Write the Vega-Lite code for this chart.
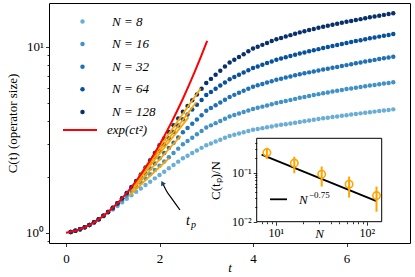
{
"$schema": "https://vega.github.io/schema/vega-lite/v6.json",
"width": 361, "height": 240,
"autosize": {"type": "none"},
"padding": {"left": 49, "top": 3, "right": 5, "bottom": 34},
"config": {
  "view": {"stroke": "black", "strokeWidth": 1},
  "font": "Liberation Serif",
  "axis": {"labelFont": "Liberation Serif", "titleFont": "Liberation Serif", "labelColor": "black", "titleColor": "black", "tickColor": "black", "tickWidth": 0.8, "domain": false, "grid": false, "titleFontWeight": "normal", "labelFontSize": 13, "titleFontSize": 13},
  "legend": {"labelFont": "Liberation Serif", "labelFontSize": 13, "labelColor": "black"}
},
"resolve": {"scale": {"x": "independent", "y": "independent"}},
"layer": [
 {
  "layer": [
   {
    "data": {"values": [
{"t":0.1,"N":"8","C":1.009},{"t":0.2,"N":"8","C":1.024},{"t":0.3,"N":"8","C":1.043},{"t":0.4,"N":"8","C":1.068},{"t":0.5,"N":"8","C":1.098},{"t":0.6,"N":"8","C":1.135},{"t":0.7,"N":"8","C":1.177},{"t":0.8,"N":"8","C":1.227},{"t":0.9,"N":"8","C":1.284},{"t":1.0,"N":"8","C":1.334},
{"t":1.1,"N":"8","C":1.393},{"t":1.2,"N":"8","C":1.455},{"t":1.3,"N":"8","C":1.521},{"t":1.4,"N":"8","C":1.589},{"t":1.5,"N":"8","C":1.660},{"t":1.6,"N":"8","C":1.730},{"t":1.7,"N":"8","C":1.803},{"t":1.8,"N":"8","C":1.879},{"t":1.9,"N":"8","C":1.959},{"t":2.0,"N":"8","C":2.042},
{"t":2.1,"N":"8","C":2.128},{"t":2.2,"N":"8","C":2.218},{"t":2.3,"N":"8","C":2.312},{"t":2.4,"N":"8","C":2.410},{"t":2.5,"N":"8","C":2.512},{"t":2.6,"N":"8","C":2.594},{"t":2.7,"N":"8","C":2.679},{"t":2.8,"N":"8","C":2.767},{"t":2.9,"N":"8","C":2.858},{"t":3.0,"N":"8","C":2.951},
{"t":3.1,"N":"8","C":3.020},{"t":3.2,"N":"8","C":3.090},{"t":3.3,"N":"8","C":3.162},{"t":3.4,"N":"8","C":3.236},{"t":3.5,"N":"8","C":3.311},{"t":3.6,"N":"8","C":3.362},{"t":3.7,"N":"8","C":3.413},{"t":3.8,"N":"8","C":3.466},{"t":3.9,"N":"8","C":3.519},{"t":4.0,"N":"8","C":3.573},
{"t":4.1,"N":"8","C":3.611},{"t":4.2,"N":"8","C":3.649},{"t":4.3,"N":"8","C":3.688},{"t":4.4,"N":"8","C":3.727},{"t":4.5,"N":"8","C":3.767},{"t":4.6,"N":"8","C":3.800},{"t":4.7,"N":"8","C":3.833},{"t":4.8,"N":"8","C":3.867},{"t":4.9,"N":"8","C":3.901},{"t":5.0,"N":"8","C":3.936},
{"t":5.1,"N":"8","C":3.972},{"t":5.2,"N":"8","C":4.009},{"t":5.3,"N":"8","C":4.046},{"t":5.4,"N":"8","C":4.083},{"t":5.5,"N":"8","C":4.121},{"t":5.6,"N":"8","C":4.153},{"t":5.7,"N":"8","C":4.186},{"t":5.8,"N":"8","C":4.219},{"t":5.9,"N":"8","C":4.252},{"t":6.0,"N":"8","C":4.285},
{"t":6.1,"N":"8","C":4.317},{"t":6.2,"N":"8","C":4.349},{"t":6.3,"N":"8","C":4.381},{"t":6.4,"N":"8","C":4.413},{"t":6.5,"N":"8","C":4.446},{"t":6.6,"N":"8","C":4.477},{"t":6.7,"N":"8","C":4.508},{"t":6.8,"N":"8","C":4.539},{"t":6.9,"N":"8","C":4.571},{"t":7.0,"N":"8","C":4.603},
{"t":0.1,"N":"16","C":1.009},{"t":0.2,"N":"16","C":1.024},{"t":0.3,"N":"16","C":1.043},{"t":0.4,"N":"16","C":1.069},{"t":0.5,"N":"16","C":1.099},{"t":0.6,"N":"16","C":1.137},{"t":0.7,"N":"16","C":1.180},{"t":0.8,"N":"16","C":1.232},{"t":0.9,"N":"16","C":1.290},{"t":1.0,"N":"16","C":1.343},
{"t":1.1,"N":"16","C":1.417},{"t":1.2,"N":"16","C":1.496},{"t":1.3,"N":"16","C":1.578},{"t":1.4,"N":"16","C":1.666},{"t":1.5,"N":"16","C":1.758},{"t":1.6,"N":"16","C":1.854},{"t":1.7,"N":"16","C":1.954},{"t":1.8,"N":"16","C":2.061},{"t":1.9,"N":"16","C":2.173},{"t":2.0,"N":"16","C":2.291},
{"t":2.1,"N":"16","C":2.415},{"t":2.2,"N":"16","C":2.547},{"t":2.3,"N":"16","C":2.685},{"t":2.4,"N":"16","C":2.831},{"t":2.5,"N":"16","C":2.985},{"t":2.6,"N":"16","C":3.112},{"t":2.7,"N":"16","C":3.243},{"t":2.8,"N":"16","C":3.381},{"t":2.9,"N":"16","C":3.524},{"t":3.0,"N":"16","C":3.673},
{"t":3.1,"N":"16","C":3.776},{"t":3.2,"N":"16","C":3.882},{"t":3.3,"N":"16","C":3.990},{"t":3.4,"N":"16","C":4.102},{"t":3.5,"N":"16","C":4.217},{"t":3.6,"N":"16","C":4.295},{"t":3.7,"N":"16","C":4.375},{"t":3.8,"N":"16","C":4.457},{"t":3.9,"N":"16","C":4.539},{"t":4.0,"N":"16","C":4.624},
{"t":4.1,"N":"16","C":4.692},{"t":4.2,"N":"16","C":4.762},{"t":4.3,"N":"16","C":4.833},{"t":4.4,"N":"16","C":4.905},{"t":4.5,"N":"16","C":4.977},{"t":4.6,"N":"16","C":5.042},{"t":4.7,"N":"16","C":5.107},{"t":4.8,"N":"16","C":5.174},{"t":4.9,"N":"16","C":5.241},{"t":5.0,"N":"16","C":5.309},
{"t":5.1,"N":"16","C":5.370},{"t":5.2,"N":"16","C":5.433},{"t":5.3,"N":"16","C":5.495},{"t":5.4,"N":"16","C":5.559},{"t":5.5,"N":"16","C":5.623},{"t":5.6,"N":"16","C":5.680},{"t":5.7,"N":"16","C":5.738},{"t":5.8,"N":"16","C":5.796},{"t":5.9,"N":"16","C":5.855},{"t":6.0,"N":"16","C":5.916},
{"t":6.1,"N":"16","C":5.967},{"t":6.2,"N":"16","C":6.020},{"t":6.3,"N":"16","C":6.073},{"t":6.4,"N":"16","C":6.126},{"t":6.5,"N":"16","C":6.180},{"t":6.6,"N":"16","C":6.231},{"t":6.7,"N":"16","C":6.283},{"t":6.8,"N":"16","C":6.335},{"t":6.9,"N":"16","C":6.388},{"t":7.0,"N":"16","C":6.442},
{"t":0.1,"N":"32","C":1.009},{"t":0.2,"N":"32","C":1.024},{"t":0.3,"N":"32","C":1.043},{"t":0.4,"N":"32","C":1.069},{"t":0.5,"N":"32","C":1.099},{"t":0.6,"N":"32","C":1.137},{"t":0.7,"N":"32","C":1.180},{"t":0.8,"N":"32","C":1.232},{"t":0.9,"N":"32","C":1.292},{"t":1.0,"N":"32","C":1.352},
{"t":1.1,"N":"32","C":1.436},{"t":1.2,"N":"32","C":1.525},{"t":1.3,"N":"32","C":1.621},{"t":1.4,"N":"32","C":1.721},{"t":1.5,"N":"32","C":1.828},{"t":1.6,"N":"32","C":1.948},{"t":1.7,"N":"32","C":2.076},{"t":1.8,"N":"32","C":2.212},{"t":1.9,"N":"32","C":2.357},{"t":2.0,"N":"32","C":2.512},
{"t":2.1,"N":"32","C":2.679},{"t":2.2,"N":"32","C":2.858},{"t":2.3,"N":"32","C":3.048},{"t":2.4,"N":"32","C":3.251},{"t":2.5,"N":"32","C":3.467},{"t":2.6,"N":"32","C":3.656},{"t":2.7,"N":"32","C":3.855},{"t":2.8,"N":"32","C":4.064},{"t":2.9,"N":"32","C":4.285},{"t":3.0,"N":"32","C":4.519},
{"t":3.1,"N":"32","C":4.677},{"t":3.2,"N":"32","C":4.842},{"t":3.3,"N":"32","C":5.012},{"t":3.4,"N":"32","C":5.188},{"t":3.5,"N":"32","C":5.370},{"t":3.6,"N":"32","C":5.508},{"t":3.7,"N":"32","C":5.649},{"t":3.8,"N":"32","C":5.794},{"t":3.9,"N":"32","C":5.943},{"t":4.0,"N":"32","C":6.095},
{"t":4.1,"N":"32","C":6.200},{"t":4.2,"N":"32","C":6.307},{"t":4.3,"N":"32","C":6.415},{"t":4.4,"N":"32","C":6.526},{"t":4.5,"N":"32","C":6.637},{"t":4.6,"N":"32","C":6.730},{"t":4.7,"N":"32","C":6.823},{"t":4.8,"N":"32","C":6.918},{"t":4.9,"N":"32","C":7.015},{"t":5.0,"N":"32","C":7.112},
{"t":5.1,"N":"32","C":7.194},{"t":5.2,"N":"32","C":7.278},{"t":5.3,"N":"32","C":7.362},{"t":5.4,"N":"32","C":7.447},{"t":5.5,"N":"32","C":7.534},{"t":5.6,"N":"32","C":7.617},{"t":5.7,"N":"32","C":7.702},{"t":5.8,"N":"32","C":7.788},{"t":5.9,"N":"32","C":7.874},{"t":6.0,"N":"32","C":7.962},
{"t":6.1,"N":"32","C":8.050},{"t":6.2,"N":"32","C":8.140},{"t":6.3,"N":"32","C":8.230},{"t":6.4,"N":"32","C":8.322},{"t":6.5,"N":"32","C":8.414},{"t":6.6,"N":"32","C":8.495},{"t":6.7,"N":"32","C":8.578},{"t":6.8,"N":"32","C":8.661},{"t":6.9,"N":"32","C":8.745},{"t":7.0,"N":"32","C":8.831},
{"t":0.1,"N":"64","C":1.009},{"t":0.2,"N":"64","C":1.024},{"t":0.3,"N":"64","C":1.043},{"t":0.4,"N":"64","C":1.069},{"t":0.5,"N":"64","C":1.099},{"t":0.6,"N":"64","C":1.137},{"t":0.7,"N":"64","C":1.180},{"t":0.8,"N":"64","C":1.232},{"t":0.9,"N":"64","C":1.292},{"t":1.0,"N":"64","C":1.361},
{"t":1.1,"N":"64","C":1.440},{"t":1.2,"N":"64","C":1.532},{"t":1.3,"N":"64","C":1.633},{"t":1.4,"N":"64","C":1.750},{"t":1.5,"N":"64","C":1.871},{"t":1.6,"N":"64","C":2.021},{"t":1.7,"N":"64","C":2.184},{"t":1.8,"N":"64","C":2.359},{"t":1.9,"N":"64","C":2.549},{"t":2.0,"N":"64","C":2.754},
{"t":2.1,"N":"64","C":2.979},{"t":2.2,"N":"64","C":3.221},{"t":2.3,"N":"64","C":3.483},{"t":2.4,"N":"64","C":3.767},{"t":2.5,"N":"64","C":4.074},{"t":2.6,"N":"64","C":4.325},{"t":2.7,"N":"64","C":4.592},{"t":2.8,"N":"64","C":4.875},{"t":2.9,"N":"64","C":5.176},{"t":3.0,"N":"64","C":5.495},
{"t":3.1,"N":"64","C":5.715},{"t":3.2,"N":"64","C":5.943},{"t":3.3,"N":"64","C":6.180},{"t":3.4,"N":"64","C":6.427},{"t":3.5,"N":"64","C":6.683},{"t":3.6,"N":"64","C":6.871},{"t":3.7,"N":"64","C":7.063},{"t":3.8,"N":"64","C":7.261},{"t":3.9,"N":"64","C":7.464},{"t":4.0,"N":"64","C":7.674},
{"t":4.1,"N":"64","C":7.834},{"t":4.2,"N":"64","C":7.998},{"t":4.3,"N":"64","C":8.166},{"t":4.4,"N":"64","C":8.337},{"t":4.5,"N":"64","C":8.511},{"t":4.6,"N":"64","C":8.642},{"t":4.7,"N":"64","C":8.774},{"t":4.8,"N":"64","C":8.909},{"t":4.9,"N":"64","C":9.045},{"t":5.0,"N":"64","C":9.183},
{"t":5.1,"N":"64","C":9.311},{"t":5.2,"N":"64","C":9.441},{"t":5.3,"N":"64","C":9.572},{"t":5.4,"N":"64","C":9.705},{"t":5.5,"N":"64","C":9.840},{"t":5.6,"N":"64","C":9.963},{"t":5.7,"N":"64","C":10.09},{"t":5.8,"N":"64","C":10.21},{"t":5.9,"N":"64","C":10.34},{"t":6.0,"N":"64","C":10.47},
{"t":6.1,"N":"64","C":10.59},{"t":6.2,"N":"64","C":10.72},{"t":6.3,"N":"64","C":10.84},{"t":6.4,"N":"64","C":10.96},{"t":6.5,"N":"64","C":11.09},{"t":6.6,"N":"64","C":11.21},{"t":6.7,"N":"64","C":11.33},{"t":6.8,"N":"64","C":11.45},{"t":6.9,"N":"64","C":11.57},{"t":7.0,"N":"64","C":11.69},
{"t":0.1,"N":"128","C":1.009},{"t":0.2,"N":"128","C":1.024},{"t":0.3,"N":"128","C":1.043},{"t":0.4,"N":"128","C":1.069},{"t":0.5,"N":"128","C":1.099},{"t":0.6,"N":"128","C":1.137},{"t":0.7,"N":"128","C":1.180},{"t":0.8,"N":"128","C":1.232},{"t":0.9,"N":"128","C":1.292},{"t":1.0,"N":"128","C":1.361},
{"t":1.1,"N":"128","C":1.440},{"t":1.2,"N":"128","C":1.532},{"t":1.3,"N":"128","C":1.637},{"t":1.4,"N":"128","C":1.758},{"t":1.5,"N":"128","C":1.896},{"t":1.6,"N":"128","C":2.056},{"t":1.7,"N":"128","C":2.239},{"t":1.8,"N":"128","C":2.449},{"t":1.9,"N":"128","C":2.685},{"t":2.0,"N":"128","C":2.951},
{"t":2.1,"N":"128","C":3.206},{"t":2.2,"N":"128","C":3.483},{"t":2.3,"N":"128","C":3.784},{"t":2.4,"N":"128","C":4.111},{"t":2.5,"N":"128","C":4.467},{"t":2.6,"N":"128","C":4.797},{"t":2.7,"N":"128","C":5.152},{"t":2.8,"N":"128","C":5.534},{"t":2.9,"N":"128","C":5.943},{"t":3.0,"N":"128","C":6.383},
{"t":3.1,"N":"128","C":6.714},{"t":3.2,"N":"128","C":7.063},{"t":3.3,"N":"128","C":7.430},{"t":3.4,"N":"128","C":7.816},{"t":3.5,"N":"128","C":8.222},{"t":3.6,"N":"128","C":8.511},{"t":3.7,"N":"128","C":8.810},{"t":3.8,"N":"128","C":9.120},{"t":3.9,"N":"128","C":9.441},{"t":4.0,"N":"128","C":9.772},
{"t":4.1,"N":"128","C":10.00},{"t":4.2,"N":"128","C":10.23},{"t":4.3,"N":"128","C":10.47},{"t":4.4,"N":"128","C":10.72},{"t":4.5,"N":"128","C":10.96},{"t":4.6,"N":"128","C":11.15},{"t":4.7,"N":"128","C":11.34},{"t":4.8,"N":"128","C":11.54},{"t":4.9,"N":"128","C":11.74},{"t":5.0,"N":"128","C":11.94},
{"t":5.1,"N":"128","C":12.11},{"t":5.2,"N":"128","C":12.29},{"t":5.3,"N":"128","C":12.46},{"t":5.4,"N":"128","C":12.65},{"t":5.5,"N":"128","C":12.82},{"t":5.6,"N":"128","C":12.98},{"t":5.7,"N":"128","C":13.13},{"t":5.8,"N":"128","C":13.29},{"t":5.9,"N":"128","C":13.45},{"t":6.0,"N":"128","C":13.61},
{"t":6.1,"N":"128","C":13.76},{"t":6.2,"N":"128","C":13.92},{"t":6.3,"N":"128","C":14.07},{"t":6.4,"N":"128","C":14.23},{"t":6.5,"N":"128","C":14.39},{"t":6.6,"N":"128","C":14.53},{"t":6.7,"N":"128","C":14.68},{"t":6.8,"N":"128","C":14.83},{"t":6.9,"N":"128","C":14.98},{"t":7.0,"N":"128","C":15.14}
    ]},
    "mark": {"type": "circle", "size": 20, "opacity": 1},
    "encoding": {
      "x": {"field": "t", "type": "quantitative", "scale": {"domain": [-0.364, 7.358], "nice": false, "zero": false},
        "axis": {"values": [0, 2, 4, 6], "tickSize": 3.5, "labelPadding": 6, "title": "t", "titleFontStyle": "italic", "titlePadding": -4, "labelFlush": false}},
      "y": {"field": "C", "type": "quantitative", "scale": {"type": "log", "domain": [0.88, 17.18], "nice": false},
        "axis": {"values": [0.9, 1, 2, 3, 4, 5, 6, 7, 8, 9, 10], "labelExpr": "datum.value == 1 ? '10⁰' : (datum.value == 10 ? '10¹' : '')",
          "tickSize": {"condition": {"test": "datum.value == 1 || datum.value == 10", "value": 3.5}, "value": 2},
          "labelPadding": 2, "title": "C(t) (operator size)", "titlePadding": 6}},
      "color": {"field": "N", "type": "nominal",
        "scale": {"domain": ["8", "16", "32", "64", "128"], "range": ["#6aaed6", "#4292c6", "#2171b5", "#08519c", "#08306b"]},
        "legend": {"orient": "none", "legendX": 27, "legendY": 12, "title": null, "padding": 0, "rowPadding": 8.6, "symbolSize": 20, "symbolType": "circle", "labelOffset": 23,
          "labelFontStyle": "italic", "labelFont": "Liberation Serif",
          "labelExpr": "'N = ' + datum.value"}}
    }
   },
   {
    "data": {"values": [
      {"g": "128", "t": 1.55, "C": 1.995}, {"g": "128", "t": 2.88, "C": 5.957},
      {"g": "64", "t": 1.5, "C": 1.884}, {"g": "64", "t": 2.78, "C": 5.012},
      {"g": "32", "t": 1.45, "C": 1.778}, {"g": "32", "t": 2.62, "C": 4.169},
      {"g": "16", "t": 1.4, "C": 1.679}, {"g": "16", "t": 2.45, "C": 3.311},
      {"g": "8", "t": 1.35, "C": 1.585}, {"g": "8", "t": 2.2, "C": 2.512}
    ]},
    "mark": {"type": "line", "color": "#ffa500", "strokeWidth": 1.8},
    "encoding": {"x": {"field": "t", "type": "quantitative"}, "y": {"field": "C", "type": "quantitative"}, "detail": {"field": "g", "type": "nominal"}}
   },
   {
    "data": {"values": [
      {"t": 0, "N": "exp", "C": 1}, {"t": 0.25, "N": "exp", "C": 1.033}, {"t": 0.5, "N": "exp", "C": 1.099}, {"t": 0.75, "N": "exp", "C": 1.205},
      {"t": 1.0, "N": "exp", "C": 1.361}, {"t": 1.25, "N": "exp", "C": 1.582}, {"t": 1.5, "N": "exp", "C": 1.896}, {"t": 1.75, "N": "exp", "C": 2.340},
      {"t": 2.0, "N": "exp", "C": 2.974}, {"t": 2.25, "N": "exp", "C": 3.895}, {"t": 2.5, "N": "exp", "C": 5.25}, {"t": 2.75, "N": "exp", "C": 7.29},
      {"t": 3.0, "N": "exp", "C": 10.44}, {"t": 3.02, "N": "exp", "C": 10.76}
    ]},
    "mark": {"type": "line", "strokeWidth": 2, "interpolate": "monotone"},
    "encoding": {"x": {"field": "t", "type": "quantitative"}, "y": {"field": "C", "type": "quantitative"},
      "stroke": {"field": "N", "type": "nominal", "scale": {"domain": ["exp"], "range": ["#ff0000"]},
        "legend": {"orient": "none", "legendX": 13, "legendY": 109, "title": null, "padding": 0, "symbolType": "stroke", "symbolSize": 1156, "symbolStrokeWidth": 2,
          "labelOffset": 9, "labelFontStyle": "italic", "labelFont": "Liberation Serif", "labelExpr": "'exp(ct²)'"}}}
   },
   {
    "data": {"values": [{"t": 2.438, "C": 1.324}, {"t": 2.267, "C": 1.518}, {"t": 2.150, "C": 1.676}, {"t": 2.075, "C": 1.828}]},
    "mark": {"type": "line", "color": "black", "strokeWidth": 1.2, "interpolate": "monotone"},
    "encoding": {"x": {"field": "t", "type": "quantitative"}, "y": {"field": "C", "type": "quantitative"}}
   },
   {
    "data": {"values": [{"t": 2.062, "C": 1.85}]},
    "mark": {"type": "point", "shape": "triangle-up", "filled": true, "size": 30, "angle": 333, "color": "#1f3f66", "opacity": 1},
    "encoding": {"x": {"field": "t", "type": "quantitative"}, "y": {"field": "C", "type": "quantitative"}}
   },
   {
    "data": {"values": [{"t": 2.61, "C": 1.156, "s": "t"}]},
    "mark": {"type": "text", "fontSize": 14, "fontStyle": "italic", "align": "center", "baseline": "middle", "font": "Liberation Serif"},
    "encoding": {"x": {"field": "t", "type": "quantitative"}, "y": {"field": "C", "type": "quantitative"}, "text": {"field": "s"}}
   },
   {
    "data": {"values": [{"t": 2.61, "C": 1.156, "s": "p"}]},
    "mark": {"type": "text", "fontSize": 10, "fontStyle": "italic", "align": "left", "baseline": "middle", "dx": 3, "dy": 4, "font": "Liberation Serif"},
    "encoding": {"x": {"field": "t", "type": "quantitative"}, "y": {"field": "C", "type": "quantitative"}, "text": {"field": "s"}}
   }
  ]
 },
 {
  "layer": [
   {
    "data": {"values": [{"x1": 6.18, "x2": 146, "y1": 0.01, "y2": 0.5}]},
    "mark": {"type": "rect", "fill": "white", "stroke": "black", "strokeWidth": 1},
    "encoding": {
      "x": {"field": "x1", "type": "quantitative", "scale": {"type": "log", "domain": [6.18, 146], "range": [207.7, 332.7], "nice": false},
        "axis": {"orient": "bottom", "offset": -21.3, "zindex": 1, "values": [7, 8, 9, 10, 20, 30, 40, 50, 60, 70, 80, 90, 100],
          "labelExpr": "datum.value == 10 ? '10¹' : (datum.value == 100 ? '10²' : '')",
          "tickSize": {"condition": {"test": "datum.value == 10 || datum.value == 100", "value": 3.5}, "value": 2},
          "labelFontSize": 12, "labelPadding": 2, "labelFlush": false, "title": "N", "titleFontStyle": "italic", "titleFontSize": 13, "titleBaseline": "top", "titleY": 5.5}},
      "x2": {"field": "x2"},
      "y": {"field": "y1", "type": "quantitative", "scale": {"type": "log", "domain": [0.01, 0.5], "range": [218.7, 135.3], "nice": false},
        "axis": {"orient": "left", "offset": -207.7, "zindex": 1, "values": [0.01, 0.02, 0.03, 0.04, 0.05, 0.06, 0.07, 0.08, 0.09, 0.1, 0.2, 0.3, 0.4],
          "labelExpr": "datum.value == 0.1 ? '10⁻¹' : (datum.value == 0.01 ? '10⁻²' : '')",
          "tickSize": {"condition": {"test": "datum.value == 0.1 || datum.value == 0.01", "value": 3.5}, "value": 2},
          "labelFontSize": 12, "labelPadding": 2, "labelFlush": false, "title": "C(tₚ)/N", "titleFontSize": 13, "titlePadding": 9}},
      "y2": {"field": "y2"}
    }
   },
   {
    "data": {"values": [{"N": 7, "v": 0.232}, {"N": 128, "v": 0.0263}]},
    "mark": {"type": "line", "color": "black", "strokeWidth": 1.8},
    "encoding": {"x": {"field": "N", "type": "quantitative"}, "y": {"field": "v", "type": "quantitative"}}
   },
   {
    "data": {"values": [
      {"N": 8, "v": 0.256, "lo": 0.19, "hi": 0.32},
      {"N": 16, "v": 0.156, "lo": 0.097, "hi": 0.21},
      {"N": 32, "v": 0.093, "lo": 0.052, "hi": 0.133},
      {"N": 64, "v": 0.058, "lo": 0.031, "hi": 0.083},
      {"N": 128, "v": 0.034, "lo": 0.016, "hi": 0.052}
    ]},
    "layer": [
      {"mark": {"type": "rule", "color": "#ffa500", "strokeWidth": 2},
       "encoding": {"x": {"field": "N", "type": "quantitative"}, "y": {"field": "lo", "type": "quantitative"}, "y2": {"field": "hi"}}},
      {"mark": {"type": "point", "shape": "circle", "filled": false, "color": "#ffa500", "strokeWidth": 1.6, "size": 55, "opacity": 1},
       "encoding": {"x": {"field": "N", "type": "quantitative"}, "y": {"field": "v", "type": "quantitative"}}}
    ]
   },
   {
    "data": {"values": [{"N": 8.66, "v": 0.0286}, {"N": 13.3, "v": 0.0286}]},
    "mark": {"type": "line", "color": "black", "strokeWidth": 1.8},
    "encoding": {"x": {"field": "N", "type": "quantitative"}, "y": {"field": "v", "type": "quantitative"}}
   },
   {
    "data": {"values": [{"N": 18.0, "v": 0.0277, "s": "N"}]},
    "mark": {"type": "text", "fontSize": 13, "fontStyle": "italic", "align": "left", "baseline": "middle", "font": "Liberation Serif"},
    "encoding": {"x": {"field": "N", "type": "quantitative"}, "y": {"field": "v", "type": "quantitative"}, "text": {"field": "s"}}
   },
   {
    "data": {"values": [{"N": 18.0, "v": 0.0277, "s": "−0.75"}]},
    "mark": {"type": "text", "fontSize": 9, "align": "left", "baseline": "middle", "dx": 10, "dy": -5, "font": "Liberation Serif"},
    "encoding": {"x": {"field": "N", "type": "quantitative"}, "y": {"field": "v", "type": "quantitative"}, "text": {"field": "s"}}
   }
  ]
 }
]
}
